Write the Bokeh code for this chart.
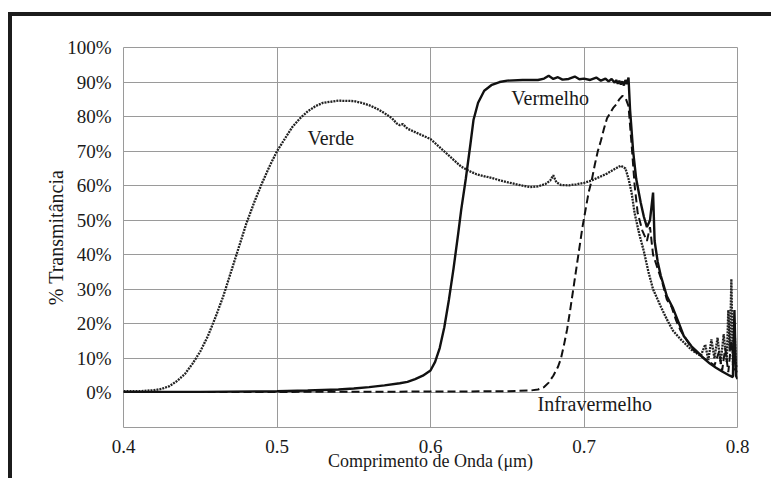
from bokeh.plotting import figure
from bokeh.models import Range1d, FixedTicker, ColumnDataSource
from bokeh.core.properties import value
from bokeh.embed import file_html
from bokeh.resources import INLINE

# ---- data (wavelength in µm, transmittance in %) ----
verde_x = [0.400, 0.410, 0.420, 0.425, 0.430, 0.435, 0.440, 0.445, 0.450, 0.455,
           0.460, 0.465, 0.470, 0.475, 0.480, 0.485, 0.490, 0.495, 0.500, 0.505,
           0.510, 0.515, 0.520, 0.525, 0.530, 0.540, 0.550, 0.555, 0.560, 0.565,
           0.570, 0.575, 0.578, 0.580, 0.582, 0.585, 0.590, 0.595, 0.600, 0.605,
           0.610, 0.615, 0.620, 0.625, 0.630, 0.640, 0.650, 0.660, 0.665, 0.670,
           0.675, 0.678, 0.680, 0.682, 0.685, 0.690, 0.695, 0.700, 0.705, 0.710,
           0.715, 0.720, 0.724, 0.727, 0.729, 0.731, 0.733, 0.736, 0.739, 0.742,
           0.745, 0.750, 0.754, 0.758, 0.763, 0.770, 0.776, 0.779, 0.781, 0.783,
           0.785, 0.787, 0.789, 0.791, 0.793, 0.794, 0.795, 0.796, 0.797, 0.798,
           0.799, 0.800]
verde_y = [0.5, 0.5, 0.8, 1.2, 2.0, 3.5, 5.5, 8.5, 12.0, 16.5,
           22.0, 28.0, 35.0, 42.0, 49.0, 55.0, 60.5, 65.5, 70.0, 73.5,
           77.0, 79.5, 81.5, 83.0, 84.0, 84.6, 84.5, 84.0, 83.3, 82.3,
           81.0, 79.5, 78.0, 77.5, 77.8, 76.5, 75.5, 74.5, 73.5, 71.5,
           69.5, 67.5, 65.5, 64.3, 63.3, 62.2, 61.0, 60.0, 59.6, 59.8,
           60.5, 61.5, 63.0, 61.0, 60.2, 60.1, 60.4, 60.8, 61.5, 62.5,
           63.5, 64.8, 65.8, 65.0, 62.0, 58.0, 52.0, 46.0, 41.0, 35.0,
           30.0, 25.0, 21.3, 18.0, 15.5, 12.5, 10.7, 14.0, 9.5, 15.5,
           10.0, 16.0, 8.5, 17.0, 9.0, 24.0, 12.0, 33.0, 8.0, 20.0,
           7.5, 8.0]

vermelho_x = [0.400, 0.450, 0.500, 0.520, 0.540, 0.550, 0.560, 0.570, 0.580, 0.585,
              0.590, 0.595, 0.600, 0.603, 0.606, 0.609, 0.612, 0.615, 0.618, 0.620,
              0.623, 0.626, 0.628, 0.631, 0.635, 0.640, 0.645, 0.650, 0.660, 0.670,
              0.674, 0.677, 0.680, 0.683, 0.686, 0.690, 0.694, 0.697, 0.700, 0.704,
              0.708, 0.711, 0.714, 0.716, 0.718, 0.720, 0.721, 0.722, 0.723, 0.724,
              0.725, 0.726, 0.727, 0.728, 0.729, 0.730, 0.732, 0.734, 0.737, 0.739,
              0.741, 0.743, 0.745, 0.746, 0.748, 0.750, 0.754, 0.758, 0.762, 0.765,
              0.770, 0.774, 0.778, 0.782, 0.786, 0.790, 0.795, 0.797, 0.798, 0.799,
              0.800]
vermelho_y = [0.3, 0.3, 0.5, 0.7, 1.0, 1.3, 1.7, 2.2, 2.8, 3.2,
              4.0, 5.0, 6.5, 9.0, 13.0, 19.0, 27.0, 36.0, 46.0, 53.0,
              62.0, 72.0, 79.0, 84.0, 87.5, 89.2, 90.0, 90.4, 90.6, 90.6,
              91.0, 91.8, 90.9, 91.4, 90.7, 90.9, 91.6, 90.8, 91.0, 90.6,
              91.3, 90.4, 91.0, 90.2, 90.9, 89.8, 90.6, 89.5, 90.4, 89.3,
              90.2, 89.0, 90.6, 89.4, 91.3, 82.0, 70.0, 62.0, 55.0, 51.0,
              48.0, 50.0, 58.0, 44.0, 38.0, 34.0, 28.0, 24.5, 20.0, 16.5,
              13.5, 11.8, 10.0, 8.5, 7.3, 6.2, 5.0, 4.6, 24.0, 5.0,
              4.0]

infra_x = [0.400, 0.500, 0.600, 0.650, 0.665, 0.670, 0.674, 0.677, 0.680, 0.683,
           0.685, 0.687, 0.689, 0.691, 0.693, 0.695, 0.697, 0.699, 0.701, 0.703,
           0.705, 0.707, 0.709, 0.711, 0.713, 0.715, 0.717, 0.719, 0.721, 0.723,
           0.725, 0.727, 0.729, 0.731, 0.733, 0.735, 0.738, 0.741, 0.743, 0.745,
           0.748, 0.751, 0.754, 0.757, 0.760, 0.763, 0.766, 0.770, 0.775, 0.780,
           0.785, 0.788, 0.790, 0.792, 0.794, 0.796, 0.798, 0.800]
infra_y = [0.3, 0.3, 0.4, 0.5, 0.7, 1.0, 1.7, 3.0, 5.0, 7.5,
           10.0, 14.0, 18.4, 24.0, 30.0, 36.0, 42.0, 48.0, 53.0, 58.0,
           61.5, 66.0, 70.0, 73.0, 76.5, 79.5, 81.0, 82.5, 83.5, 85.0,
           86.0, 85.5, 83.0, 72.0, 60.0, 52.0, 47.0, 44.0, 48.0, 40.0,
           36.0, 32.0, 27.0, 25.0, 21.0, 18.0, 16.0, 13.0, 11.0, 9.5,
           8.0, 12.0, 6.5, 13.0, 6.0, 15.0, 7.0, 6.0]

x_ticks = [0.4, 0.5, 0.6, 0.7, 0.8]
x_tick_labels = ["0.4", "0.5", "0.6", "0.7", "0.8"]
y_ticks = [0, 10, 20, 30, 40, 50, 60, 70, 80, 90, 100]
y_tick_labels = ["0%", "10%", "20%", "30%", "40%", "50%", "60%", "70%", "80%", "90%", "100%"]

label_names = ["Verde", "Vermelho", "Infravermelho"]
label_x = [0.535, 0.678, 0.707]
label_y = [73.8, 85.3, -3.2]

FONT = "Liberation Serif"
TXT = "#1a1a1a"
GRID = "#9a9a9a"

p = figure(width=763, height=466, output_backend="svg", toolbar_location=None,
           x_range=Range1d(0.4, 0.8), y_range=Range1d(-10, 100),
           min_border_left=111, min_border_right=38, min_border_top=31, min_border_bottom=55,
           background_fill_color="white", border_fill_color="white",
           margin=(12, 0, 0, 8),
           styles={"border-left": "4px solid #1c1c1c", "border-top": "4px solid #1c1c1c"})

p.outline_line_color = GRID
p.outline_line_width = 1

p.xaxis.ticker = FixedTicker(ticks=x_ticks)
p.yaxis.ticker = FixedTicker(ticks=y_ticks)
p.xaxis.major_label_overrides = dict(zip(x_ticks, x_tick_labels))
p.yaxis.major_label_overrides = dict(zip(y_ticks, y_tick_labels))
p.xaxis.axis_label = "Comprimento de Onda (μm)"
p.yaxis.axis_label = "% Transmitância"

for ax in (p.xaxis, p.yaxis):
    ax.axis_line_color = None
    ax.major_tick_line_color = None
    ax.minor_tick_line_color = None
    ax.major_label_text_font = FONT
    ax.major_label_text_font_size = "19px"
    ax.major_label_text_color = TXT
    ax.axis_label_text_font = FONT
    ax.axis_label_text_font_style = "normal"
    ax.axis_label_text_color = TXT

p.xaxis.axis_label_text_font_size = "18px"
p.yaxis.axis_label_text_font_size = "20px"
p.xaxis.major_label_standoff = 6
p.yaxis.major_label_standoff = 6
p.xaxis.axis_label_standoff = -5
p.yaxis.axis_label_standoff = -3

p.xgrid.grid_line_color = GRID
p.ygrid.grid_line_color = GRID
p.xgrid.grid_line_width = 1
p.ygrid.grid_line_width = 1

p.line(verde_x, verde_y, line_color="#222222", line_width=2.3, line_dash="2 1")
p.line(infra_x, infra_y, line_color="#111111", line_width=2, line_dash="8 4")
p.line(vermelho_x, vermelho_y, line_color="#111111", line_width=2.4)

src = ColumnDataSource(dict(x=label_x, y=label_y, t=label_names))
p.text(x="x", y="y", text="t", source=src, text_font=value(FONT), text_font_size="20px",
       text_color=TXT, text_align="center", text_baseline="middle")

open("out.html", "w").write(file_html(p, INLINE))
